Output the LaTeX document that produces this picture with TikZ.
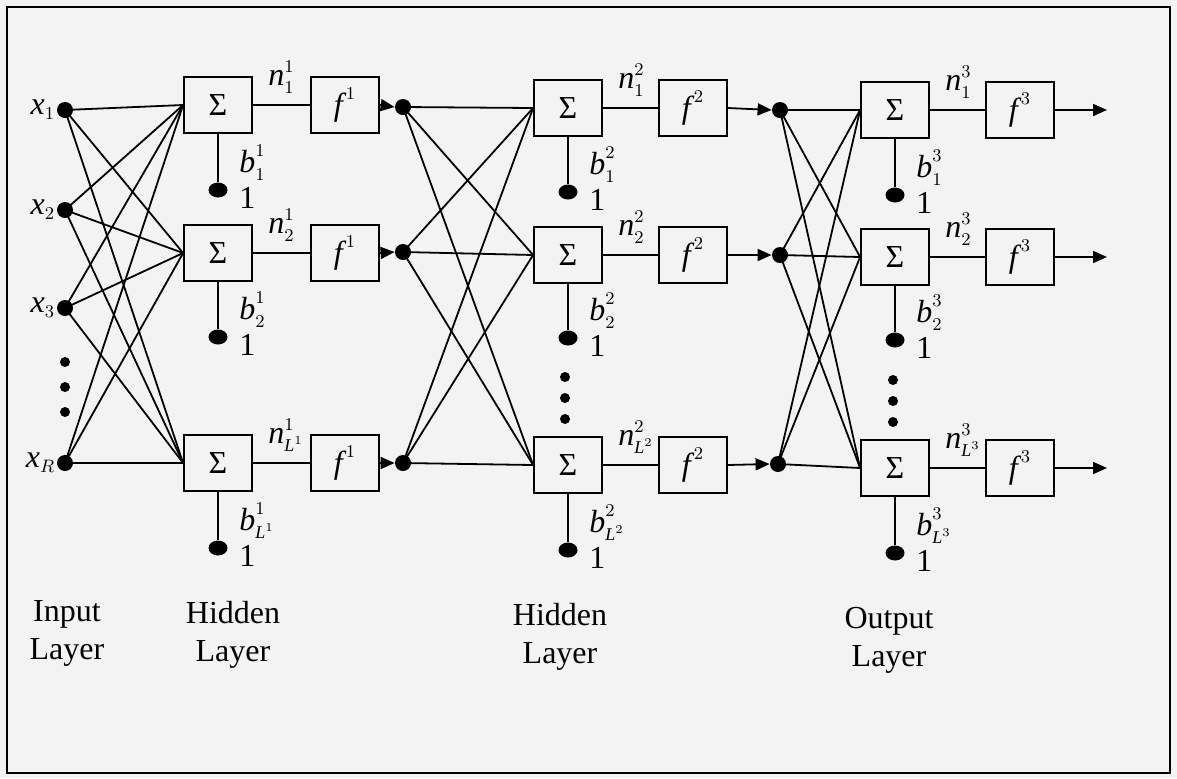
\documentclass[tikz,border=0pt]{standalone}
\usepackage{amstext}
\usepackage{fontspec}
\setmainfont{Liberation Serif}
\usetikzlibrary{arrows.meta,shapes.geometric,calc}
\definecolor{bg}{RGB}{243,243,243}
\DeclareMathSizes{16}{16}{9}{6.5}
\newcommand\nnunit[7]{%
  \node[box] (s#1#2) at (#3,#4) {Σ};
  \node[box] (f#1#2) at (#5,#4) {$\textit{f}^{\,#1}$};
  \node[bdot] (b#1#2) at (#3,#6) {};
  \draw[wire] (s#1#2.south) -- (b#1#2);
  \draw[wire] (s#1#2.east) -- (f#1#2.west);
  \node[lbl, anchor=base west] (n#1#2) at ($(s#1#2.east)+(15,-20)$) {$\textit{n}^{#1}_{#7}$};
  \node[lbl, anchor=base west] (bl#1#2) at ($(b#1#2)+(21,-18)$) {$\textit{b}^{#1}_{#7}$};
  \node[lbl, anchor=base west] (one#1#2) at ($(b#1#2)+(21,18)$) {1};
}
\begin{document}
\begin{tikzpicture}[x=0.5pt,y=-0.5pt,
  box/.style={draw, line width=0.9pt, minimum width=34pt, minimum height=28pt, inner sep=0pt, fill=bg, font=\fontsize{16}{18}\selectfont},
  dot/.style={circle, fill=black, inner sep=0pt, minimum size=8pt},
  bdot/.style={ellipse, fill=black, inner sep=0pt, minimum width=9.5pt, minimum height=7.5pt},
  sdot/.style={circle, fill=black, inner sep=0pt, minimum size=5pt},
  wire/.style={line width=0.9pt},
  arr/.style={-{Triangle[length=7pt,width=6pt]}},
  lbl/.style={font=\fontsize{16}{18}\selectfont, inner sep=0pt},
  captxt/.style={font=\fontsize{16}{19}\selectfont, align=center, inner sep=0pt}
]
\fill[bg] (0,0) rectangle (1177,778);
\useasboundingbox (0,0) rectangle (1177,778);
\draw[line width=1.2pt] (7,7) rectangle (1170,773);

% input layer
\node[dot, label={[lbl,label distance=0.5pt]left:$\textit{x}_1$}] (i1) at (65,110) {};
\node[dot, label={[lbl,label distance=0.5pt]left:$\textit{x}_2$}] (i2) at (65,210) {};
\node[dot, label={[lbl,label distance=0.5pt]left:$\textit{x}_3$}] (i3) at (65,308) {};
\node[dot, label={[lbl,label distance=0.5pt]left:$\textit{x}_R$}] (i4) at (65,463) {};
\node[sdot] (e01) at (65,362) {};
\node[sdot] (e02) at (65,387) {};
\node[sdot] (e03) at (65,412) {};

% layer 1
\nnunit{1}{1}{218}{105}{345}{190}{1}
\nnunit{1}{2}{218}{253}{345}{337}{2}
\nnunit{1}{3}{218}{463}{345}{548}{\textit{L}^1}
\node[dot] (h11) at (403,107) {};
\node[dot] (h12) at (403,252) {};
\node[dot] (h13) at (403,463) {};

% layer 2
\nnunit{2}{1}{568}{108}{693}{192}{1}
\nnunit{2}{2}{568}{255}{693}{338}{2}
\nnunit{2}{3}{568}{465}{693}{550}{\textit{L}^2}
\node[dot] (h21) at (780,110) {};
\node[dot] (h22) at (780,255) {};
\node[dot] (h23) at (778,464) {};
\node[sdot] (e21) at (565,377) {};
\node[sdot] (e22) at (565,398) {};
\node[sdot] (e23) at (565,419) {};

% layer 3
\nnunit{3}{1}{895}{110}{1020}{195}{1}
\nnunit{3}{2}{895}{257}{1020}{340}{2}
\nnunit{3}{3}{895}{468}{1020}{553}{\textit{L}^3}
\node[sdot] (e31) at (893,380) {};
\node[sdot] (e32) at (893,401) {};
\node[sdot] (e33) at (893,422) {};
\coordinate (o1) at (1107,110);
\coordinate (o2) at (1107,257);
\coordinate (o3) at (1107,468);

% connections
\foreach \a in {1,...,4} \foreach \b in {1,2,3} \draw[wire] (i\a.center) -- (s1\b.west);
\foreach \a in {1,2,3} \foreach \b in {1,2,3} {
  \draw[wire] (h1\a.center) -- (s2\b.west);
  \draw[wire] (h2\a.center) -- (s3\b.west);
}
\foreach \a in {1,2,3} {
  \draw[wire,arr] (f1\a.east) -- (h1\a.west);
  \draw[wire,arr] (f2\a.east) -- (h2\a.west);
  \draw[wire,arr] (f3\a.east) -- (o\a);
}

% captions
\node[captxt] (c0) at (67,633) {Input\\Layer};
\node[captxt] (c1) at (233,635) {Hidden\\Layer};
\node[captxt] (c2) at (560,637) {Hidden\\Layer};
\node[captxt] (c3) at (889,640) {Output\\Layer};
\end{tikzpicture}
\end{document}
